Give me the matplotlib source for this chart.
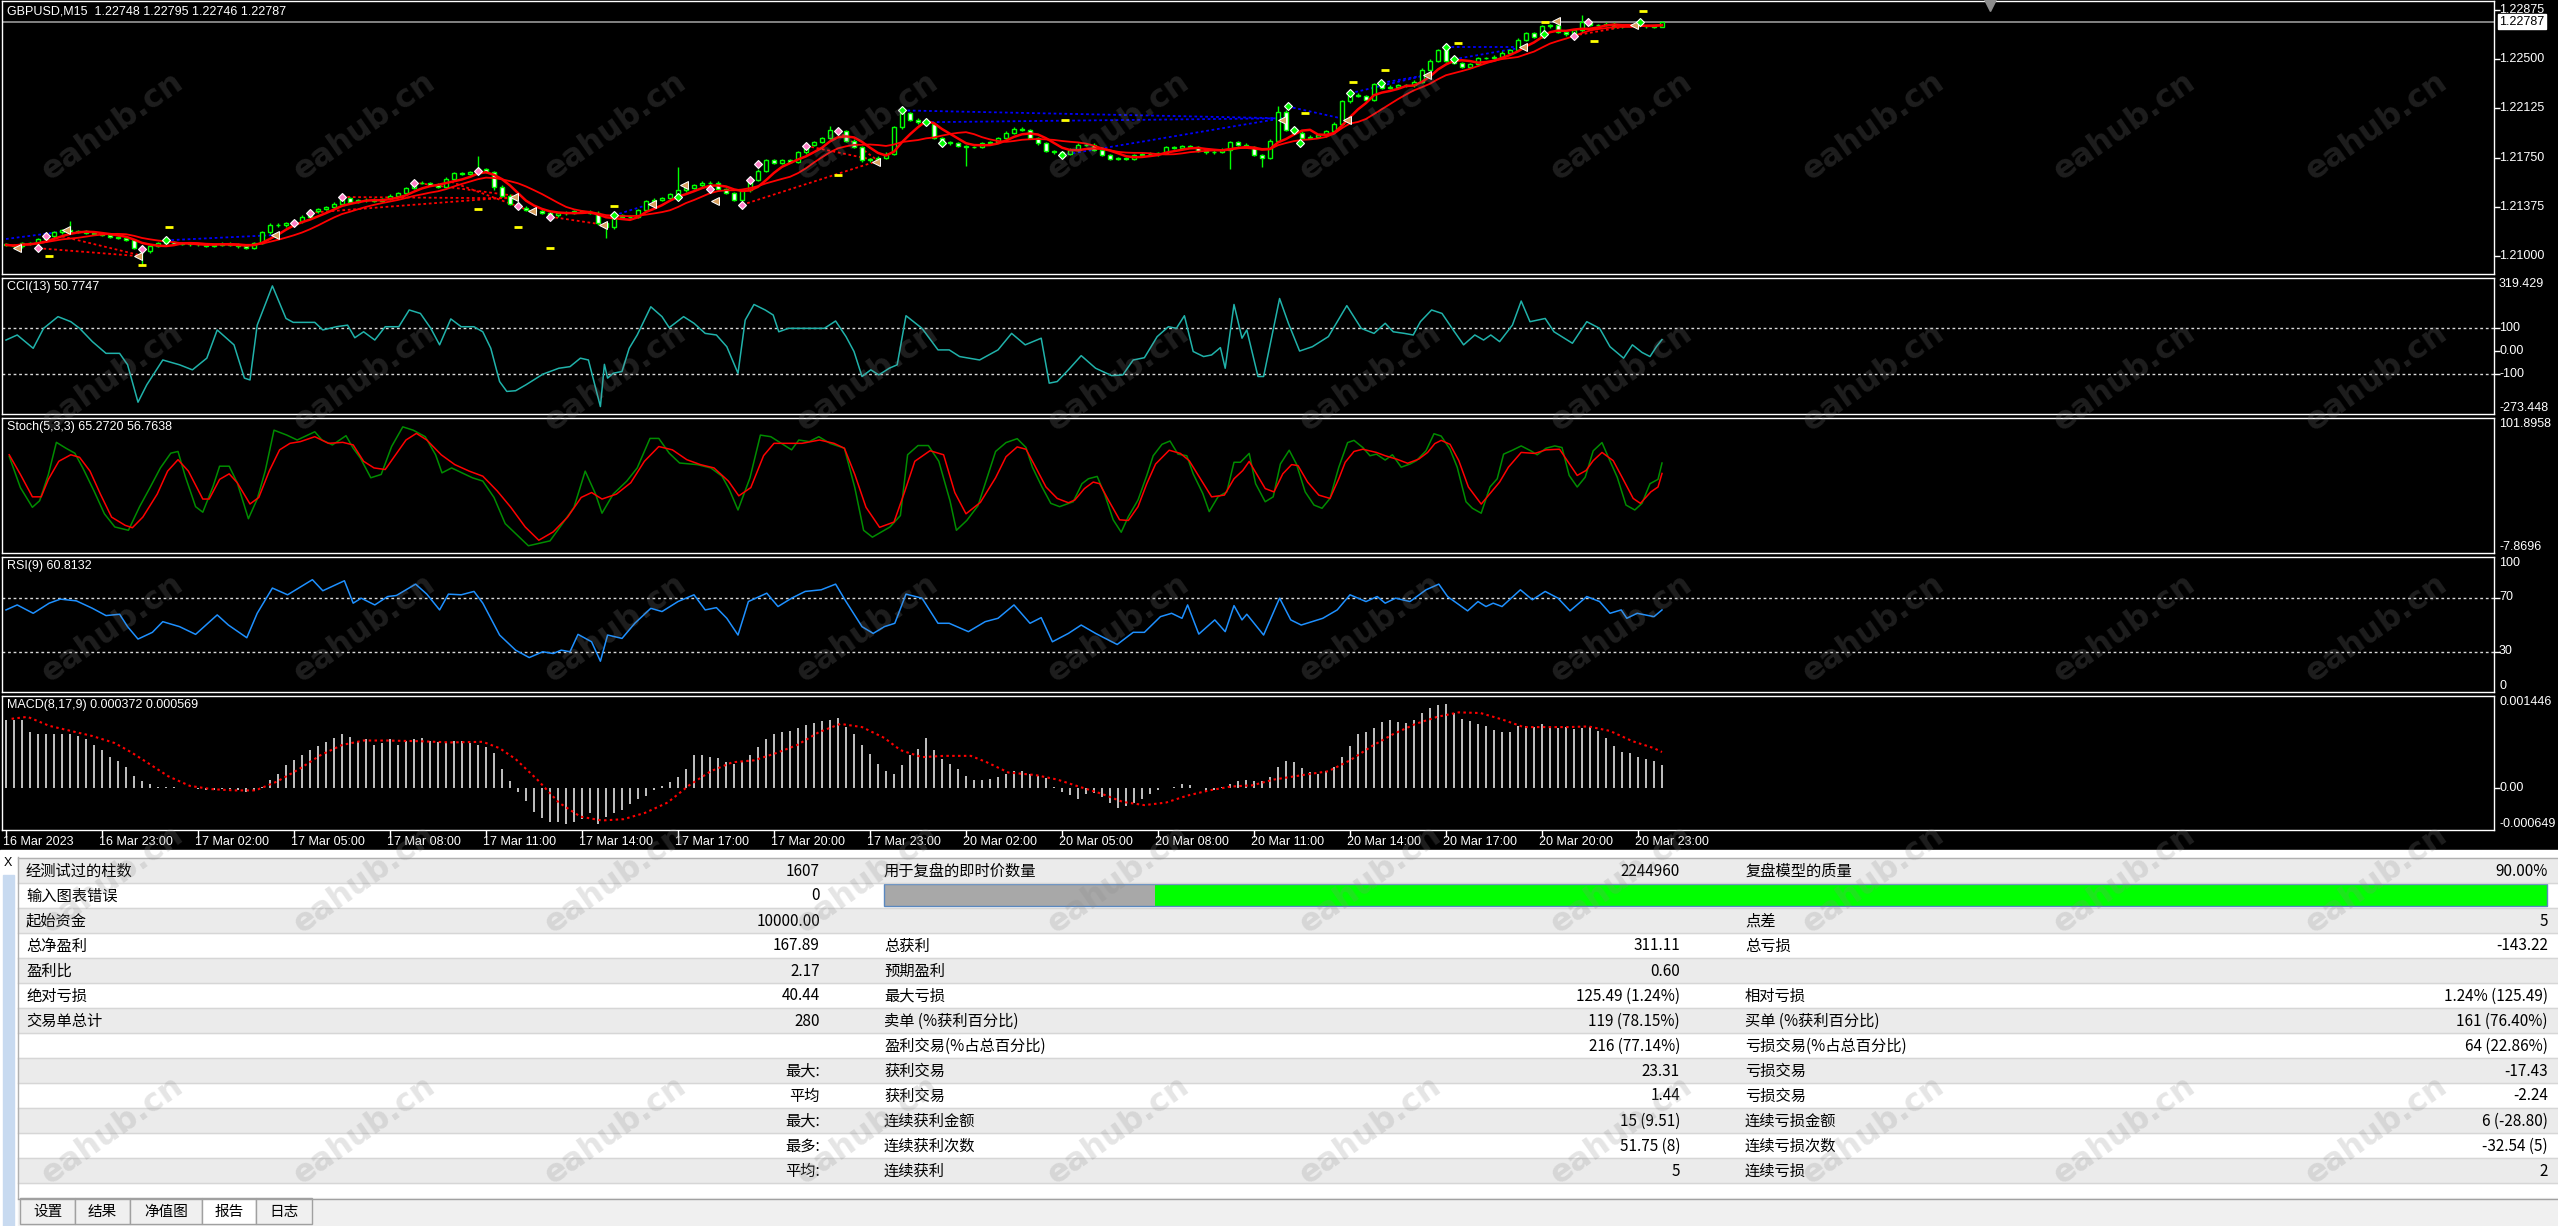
"""MT4 strategy tester screenshot: GBPUSD M15 chart with CCI / Stoch / RSI / MACD panes and report table."""

import numpy as np
import pandas as pd
import matplotlib
matplotlib.use("Agg")
import matplotlib.pyplot as plt
from matplotlib.patches import Rectangle

W, H = 2558, 1226
CHART_FONT = ["Liberation Sans", "DejaVu Sans"]
CJK_FONT = ["Noto Sans CJK SC", "DejaVu Sans"]

# ============================ data ============================
first_open = 1.21090
closes = [
    1.21085, 1.21075, 1.21100, 1.21098, 1.21130, 1.21150, 1.21180, 1.21198, 1.21185, 1.21190,
    1.21175, 1.21168, 1.21160, 1.21145, 1.21140, 1.21122, 1.21060, 1.21035, 1.21080, 1.21100,
    1.21107, 1.21095, 1.21100, 1.21090, 1.21092, 1.21080, 1.21085, 1.21095, 1.21088, 1.21075,
    1.21060, 1.21100, 1.21180, 1.21240, 1.21235, 1.21250, 1.21265, 1.21300, 1.21340, 1.21360,
    1.21372, 1.21400, 1.21440, 1.21415, 1.21425, 1.21430, 1.21420, 1.21435, 1.21460, 1.21480,
    1.21520, 1.21560, 1.21558, 1.21545, 1.21530, 1.21590, 1.21630, 1.21625, 1.21640, 1.21660,
    1.21640, 1.21530, 1.21460, 1.21400, 1.21370, 1.21350, 1.21345, 1.21330, 1.21310, 1.21325,
    1.21330, 1.21340, 1.21338, 1.21330, 1.21250, 1.21220, 1.21310, 1.21300, 1.21300, 1.21350,
    1.21420, 1.21430, 1.21440, 1.21470, 1.21500, 1.21520, 1.21540, 1.21560, 1.21560, 1.21510,
    1.21480, 1.21430, 1.21500, 1.21580, 1.21650, 1.21730, 1.21710, 1.21730, 1.21720, 1.21790,
    1.21850, 1.21870, 1.21900, 1.21960, 1.21950, 1.21880, 1.21830, 1.21730, 1.21740, 1.21750,
    1.21780, 1.21980, 1.22090, 1.22040, 1.22020, 1.22010, 1.21900, 1.21870, 1.21860, 1.21840,
    1.21830, 1.21830, 1.21860, 1.21870, 1.21900, 1.21940, 1.21970, 1.21960, 1.21900, 1.21860,
    1.21800, 1.21790, 1.21780, 1.21810, 1.21850, 1.21850, 1.21810, 1.21770, 1.21740, 1.21745,
    1.21740, 1.21770, 1.21780, 1.21775, 1.21785, 1.21830, 1.21825, 1.21835, 1.21830, 1.21800,
    1.21790, 1.21795, 1.21810, 1.21870, 1.21850, 1.21830, 1.21770, 1.21750, 1.21880, 1.22100,
    1.21960, 1.21940, 1.21900, 1.21910, 1.21920, 1.21950, 1.22010, 1.22180, 1.22230, 1.22220,
    1.22190, 1.22310, 1.22280, 1.22290, 1.22300, 1.22300, 1.22330, 1.22420, 1.22490, 1.22570,
    1.22490, 1.22470, 1.22440, 1.22460, 1.22510, 1.22510, 1.22520, 1.22550, 1.22570, 1.22650,
    1.22700, 1.22670, 1.22750, 1.22760, 1.22710, 1.22690, 1.22720, 1.22780, 1.22760, 1.22760,
    1.22770, 1.22750, 1.22760, 1.22760, 1.22750, 1.22750, 1.22748, 1.22787,
]
long_highs = {8: 1.21270, 59: 1.21760, 84: 1.21680, 103: 1.21990, 112: 1.22130,
              159: 1.22140, 180: 1.22600, 197: 1.22840, 207: 1.22795}
long_lows = {17: 1.20930, 61: 1.21500, 75: 1.21140, 120: 1.21690, 153: 1.21660,
             157: 1.21680, 207: 1.22746}
bid = 1.22787

price_ticks = [1.22875, 1.22500, 1.22125, 1.21750, 1.21375, 1.21000]

# tester trade marks
buy_bar = [20, 76, 84, 112, 115, 117, 132, 160.2, 161, 161.8, 168, 171.9, 180, 181, 192.2, 204.2]
buy_px = [1.2112, 1.2131, 1.2145, 1.2211, 1.2202, 1.2186, 1.2177, 1.2214, 1.2196, 1.2186,
          1.2224, 1.2232, 1.2259, 1.2250, 1.2269, 1.2278]
sell_bar = [4, 5, 17, 36, 38, 42, 51, 59, 64, 68, 88, 92, 93, 94, 100, 104, 196, 197.8]
sell_px = [1.2106, 1.2115, 1.2105, 1.2125, 1.2133, 1.2145, 1.2156, 1.2165, 1.2138, 1.2130,
           1.2151, 1.2139, 1.2158, 1.2170, 1.2184, 1.2195, 1.2268, 1.2278]
close_bar = [1.4, 7.5, 16.5, 33.6, 63.5, 65.7, 74.6, 80.7, 84.7, 88.6, 108.7, 159.5, 167.6,
             177.6, 189.6, 193.7, 203.5]
close_px = [1.2106, 1.2120, 1.2100, 1.2116, 1.2145, 1.2134, 1.2124, 1.2140, 1.2154, 1.2142,
            1.2172, 1.2204, 1.2204, 1.2238, 1.2259, 1.2279, 1.2276]
red_links = [(4, 1.2106, 16.5, 1.2100), (7, 1.2115, 16.5, 1.2101), (38, 1.2133, 63.5, 1.2145),
             (42, 1.2145, 63.5, 1.2144), (51, 1.2156, 63.5, 1.2146), (55, 1.2158, 65.7, 1.2134),
             (68, 1.2130, 74.6, 1.2124), (92, 1.2139, 108.7, 1.2172), (100, 1.2184, 108.7, 1.2173),
             (104, 1.2195, 108.7, 1.2174), (196, 1.2268, 203.5, 1.2276)]
blue_links = [(0, 1.2113, 7.5, 1.2119), (20, 1.2112, 33.6, 1.2116), (76, 1.2131, 80.7, 1.2140),
              (112, 1.2211, 159.5, 1.2205), (115, 1.2202, 159.5, 1.2205), (132, 1.2177, 159.5, 1.2205),
              (160.2, 1.2214, 167.6, 1.2204), (168, 1.2224, 177.6, 1.2238), (172, 1.2232, 177.6, 1.2238),
              (180, 1.2259, 189.6, 1.2259), (181, 1.2250, 189.6, 1.2259)]
tp_bar = [5.4, 17, 20.4, 59, 64, 68, 76, 104, 132.4, 162.4, 168.4, 172.4, 181.5, 192.4, 198.5, 204.6]
tp_px = [1.2100, 1.2093, 1.2122, 1.2136, 1.2122, 1.2106, 1.2138, 1.2162, 1.2204, 1.2209,
         1.2233, 1.2242, 1.2262, 1.2278, 1.2264, 1.2287]

# CCI(13)
cci_bar = [0, 1.4, 3.4, 4.7, 6.5, 8.1, 9.2, 10.8, 12.5, 14.2, 15.2, 16.5, 17.6, 19.6, 21.7, 23.3,
           25.1, 26.4, 28.5, 29.8, 30.5, 31.4, 33.3, 35, 35.9, 38.6, 39.6, 41.3, 42.7, 43.6, 44.7,
           46.1, 47.4, 49.1, 50.4, 51.8, 53.1, 54.2, 55.6, 56.9, 58.5, 59.6, 60.6, 61.7, 62.6, 63.7,
           65, 67.1, 69.1, 70.5, 71.8, 72.8, 74.3, 74.8, 75.2, 75.9, 77, 77.9, 78.9, 80.6, 82, 82.9,
           84.7, 86, 87.4, 88.8, 90.1, 91.5, 92.4, 93.5, 94.9, 95.9, 96.6, 97.8, 99.6, 100.9, 102.3,
           103.7, 105, 106, 107, 108.1, 109.1, 110.4, 111.4, 112.5, 114.5, 116.5, 117.9, 119.2,
           121.7, 124, 125.7, 127.4, 129.4, 130.4, 131.4, 132.8, 134.4, 136.2, 138.2, 139.6, 140.9,
           142.3, 143.9, 145.3, 146.3, 147.3, 148.4, 149.7, 150.7, 151.8, 152.4, 153.5, 154.5,
           155.1, 156.5, 157.2, 159.2, 160.3, 161.7, 163.3, 165.3, 167.6, 169.4, 171, 172.4, 173.4,
           174.8, 175.9, 176.8, 178.2, 179.5, 180.9, 182.2, 183.6, 184.7, 185.6, 186.7, 188.3,
           189.4, 190.5, 192.4, 193.5, 195.8, 197.6, 199.2, 200.5, 202.2, 203.3, 204.5, 205.5,
           206.3, 207]
cci_val = [49, 71, 13, 100, 151, 129, 100, 42, -9, -9, -59, -222, -146, -38, -59, -81, -30, 93,
           28, -117, -125, 114, 285, 143, 126, 126, 93, 107, 114, 59, 85, 49, 107, 107, 180, 165,
           100, 28, 141, 107, 107, 85, 13, -132, -175, -172, -146, -100, -74, -67, -30, -38, -241,
           -57, -117, -96, -88, 13, 71, 194, 151, 103, 151, 122, 78, 71, 20, -96, 136, 204, 180,
           158, 85, 100, 100, 100, 100, 132, 64, -1, -110, -81, -103, -74, -59, 155, 100, 6, 6,
           -23, -38, 6, 78, 28, 57, -139, -132, -81, -19, -74, -106, -103, -38, -28, 64, 107, 100,
           155, -1, -23, -16, 16, -74, 204, 57, 93, -110, -110, 230, 122, 1, 20, 64, 199, 100, 78,
           122, 85, 78, 71, 129, 180, 165, 93, 28, 71, 49, 71, 42, 114, 219, 129, 143, 85, 35, 129,
           100, 20, -30, 28, -5, -23, 20, 51]

# Stochastic(5,3,3): main (green) and signal (red)
stk_bar = [0.4, 1.8, 3.3, 4.2, 5.3, 6.3, 7.5, 8.6, 9.6, 11, 12.3, 13.6, 15.3, 16.7, 18, 19.3,
           20.6, 21.5, 22.4, 23.7, 24.6, 25.9, 26.7, 27.9, 28.9, 30.3, 31.4, 32.4, 33.5, 35.1,
           36.4, 38.6, 39.5, 40.8, 42.5, 43.4, 44.3, 45.6, 46.9, 48.2, 49.6, 50.9, 52.4, 53.7,
           54.5, 55.7, 57, 58.3, 59.6, 61, 62.4, 64, 65.3, 68, 69.7, 71, 72.4, 73.7, 74.5, 75.9,
           77.6, 78.9, 80.5, 81.6, 82.9, 84.2, 86.4, 88.1, 89.5, 90.4, 91.5, 93, 94.3, 95.6, 96.9,
           98.2, 99.1, 100.4, 101.6, 103, 104.8, 106.1, 107.2, 108.3, 110.5, 111.8, 112.7, 114,
           115.3, 116.6, 118, 118.8, 120.1, 121.5, 123.7,
           125, 126.4, 127.5, 128.3, 129.5, 130.6, 131.7, 133.4, 134.5, 135.3, 136.4, 137.3,
           138.4, 139.4, 140.3, 141.5, 142.6, 143.4, 144.5, 145.5, 146.5, 147.6, 148.4, 149.6,
           150.4, 151.5, 152.6, 153.5, 154.3, 155.4, 156.2, 157.4, 158.4, 159.3, 160.4, 161.3,
           162.4, 163.5, 164.5, 165.5, 166.6, 167.7, 168.5, 169.6, 170.5, 171.3, 172.4, 173.3,
           174.4, 175.5, 176.3, 177.5, 178.5, 179.4, 180.5, 181.4, 182.5, 183.3, 184.4, 185.5,
           186.4, 187.2, 188.3, 189.4, 190.6, 191.4, 192.5, 193.6, 194.5, 195.4, 196.4, 197.4,
           198.4, 199.5, 200.3, 201.4, 202.5, 203.6, 204.5, 205.5, 206.5, 207]
stk_val = [70.7, 45.3, 29.3, 34.6, 56, 82.1, 77.3, 73.3, 61.3, 42.6, 24, 13.3, 10.6, 29.8, 45.3,
           61.3, 73.3, 74.7, 54.6, 29.8, 25.3, 46.6, 62.7, 62.7, 49.3, 20, 36, 58.7, 92, 88, 84,
           90.7, 84, 80, 87.5, 77.3, 69.3, 53.3, 56, 78.7, 94.7, 92, 86.7, 72, 57.3, 61.3, 57.3,
           53.3, 50.6, 37.3, 16, 6, -2, 2, 17.3, 29.3, 58.7, 40, 24.5, 40, 50.6, 61.3, 85.3, 85.3,
           73.3, 65.3, 64, 61.3, 54.6, 44, 27.1, 53.3, 88, 86.7, 81.3, 76, 84, 82.7, 86.7, 81.3,
           77.3, 45.3, 10.6, 5, 13.3, 22.6, 72, 79.5, 79.5, 66.7, 34.6, 10.6, 18.6, 30.6, 74.7,
           81.9, 85.1, 77.9, 61.9, 45.8, 32.5, 29.8, 33.8, 48.5, 52.5, 54.4, 40.5, 19.1, 9, 21.8,
           35.2, 55.2, 71.2, 80.5, 83.2, 72.5, 71.2, 56.5, 40.5, 25.8, 37.8, 41.8, 65.9, 65.9,
           73.1, 48.5, 33.8, 37.8, 64.5, 75.7, 64.5, 41.8, 31.1, 28.5, 36.5, 61.9, 81.9, 83.7,
           77.9, 71.2, 72.5, 67.7, 72, 61.9, 64.5, 67.2, 75.2, 89.1, 87.2, 76.5, 61.9, 33.8, 28.5,
           24.5, 45.8, 52.5, 72.5, 75.7, 79.2, 75.2, 72, 77.3, 79.2, 77.9, 55.2, 45.8, 53.8, 75.2,
           81.9, 69.9, 53.8, 31.1, 27.1, 32.5, 48.5, 52, 65.3]
sig_bar = [0.4, 1.8, 3.3, 4.4, 5.3, 6.6, 8.1, 9.2, 10.5, 11.8, 13.2, 14.9, 15.8, 17.1, 18.9, 20.2,
           21.5, 22.8, 24.6, 25.4, 26.7, 27.9, 28.9, 30.5, 31.6, 32.9, 34.2, 35.5, 36.8, 38.6,
           40.3, 42.1, 43.4, 44.7, 46, 47.4, 48.7, 50, 51.3, 52.6, 54.4, 56.1, 57.9, 59.6, 61.4,
           63.1, 64.9, 66.6, 68.4, 70.2, 71.9, 73.2, 74.5, 76.3, 78.1, 79.8, 81.6, 83.3, 85.1,
           86.8, 88.5, 90.3, 91.6, 93.1, 94.7, 96, 97.8, 99.5, 101.7, 103.5, 104.8, 106.1, 107.5,
           109.2, 111, 112.3, 113.6, 115.5, 117.2, 118.6, 120, 121.8, 123.7,
           125, 126.4, 127.5, 128.6, 130, 131.4, 132.8, 133.6, 134.8, 135.9, 136.7, 137.8, 139.2,
           140.3, 141.5, 142.6, 143.7, 145.4, 146.8, 147.9, 149.3, 150.7, 152.3, 153.5, 154.6,
           155.4, 156.2, 157.4, 158.5, 159.6, 160.7, 161.5, 162.7, 164.1, 165.5, 166.6, 167.4,
           168.5, 169.6, 171.3, 172.4, 173.8, 175.2, 176.6, 177.7, 178.6, 179.4, 180.5, 181.6,
           182.8, 184.4, 185.5, 186.7, 187.8, 189.4, 191.1, 192.5, 194.2, 195.3, 196.4, 197.5,
           198.4, 199.5, 200.9, 202, 203.4, 204.3, 205.6, 206.5, 207]
sig_val = [72, 56, 37.8, 37.8, 52, 66.7, 72, 69.9, 58.7, 40, 21.3, 14.6, 12.7, 21.3, 40, 58.7, 68,
           58.7, 36, 36, 52, 56.5, 49.3, 32, 37.3, 58.7, 76, 81.3, 82.7, 86.7, 81.3, 82.1, 80,
           66.7, 61.3, 60, 72, 84, 89.4, 84, 72, 64, 58.7, 54.6, 42.6, 29.3, 13.3, 2.5, 9.3, 21.3,
           37.3, 41.3, 36, 40, 49.3, 66.7, 78.7, 76, 68, 64, 61.3, 50.6, 38.6, 45.3, 71.3, 81.3,
           81.3, 81.3, 84, 81.3, 77.3, 56, 29.3, 13, 17.3, 41.3, 66.7, 75.3, 72, 41.3, 24, 33.3,
           53.3,
           70.4, 78.4, 76.5, 63.2, 45.8, 36.5, 33, 35.2, 44.5, 49.8, 48.5, 35.2, 19.1, 18.6, 29.8,
           48.5, 64.5, 75.7, 73.1, 67.2, 52.5, 37.8, 39.2, 52.5, 59.2, 66.6, 57.8, 44.5, 41.8,
           56.5, 64, 63.2, 49.8, 39.2, 36.5, 52.5, 65.9, 74.7, 76.5, 73.9, 71.2, 68.5, 65.1, 68.5,
           73.9, 81.1, 83.7, 80.5, 67.2, 45.8, 31.9, 40.5, 49.8, 61.9, 73.9, 73.1, 76, 76.5, 65.9,
           55.2, 59.2, 67.2, 73.9, 67.2, 53.8, 36.5, 32.5, 41.8, 45.8, 56.8]

# RSI(9)
rsi_bar = [0, 1.4, 3.4, 5.4, 6.8, 8.8, 10.8, 12.5, 14.2, 15.2, 16.5, 18.3, 19.6, 21.7, 23.7, 26.4,
           27.8, 30.1, 31.4, 33.3, 35.2, 38.3, 39.6, 42.3, 43.4, 44.4, 46.1, 47.7, 48.8, 51.2,
           52.6, 54.2, 55.3, 56.9, 58.5, 59.6, 61.7, 63.7, 65.4, 67.1, 68.4, 69.4, 70.5, 71.5,
           73.2, 74.3, 75.2, 77, 78.6, 80.6, 82, 84, 86, 87.4, 88.8, 90.1, 91.5, 92.8, 95.1, 96.5,
           98.2, 99.9, 101.9, 103.7, 105, 107, 108.4, 109.8, 111.1, 112.5, 114.5, 116.5, 117.9,
           120.3, 122.4, 124, 126, 128, 129.4, 130.8, 132.8, 134.4, 136.2, 138.9, 140.9, 142.3,
           144.3, 145.7, 147, 147.7, 149.1, 151.1, 152.4, 153.5, 154.5, 155.1, 157.2, 159.2,
           160.6, 161.9, 164.6, 166.4, 168, 170, 171.4, 172.4, 173.7, 175.5, 177.5, 179.1, 180.2,
           182.7, 184, 185, 185.9, 187, 189.3, 190.8, 192.4, 194, 195.5, 197.6, 199.2, 200.5,
           201.9, 202.6, 203.9, 206, 207]
rsi_val = [60.8, 64.5, 58.3, 65.8, 68.8, 67.5, 62, 56.6, 57.6, 48.4, 39.2, 44.2, 52.1, 48.4, 42.7,
           57.1, 49.6, 40.2, 58.3, 77, 72, 83.2, 75, 82.4, 65.8, 69.5, 64.5, 70.7, 71.5, 79.9,
           72.5, 60.8, 72.5, 72, 74.5, 65.8, 42.2, 31, 25.5, 29.8, 28.5, 31, 29.8, 42.7, 37.2,
           22.8, 42.2, 39.7, 50.9, 62, 59.6, 67, 72, 60.8, 62.5, 54.6, 42.2, 67, 73.2, 63.3, 69.5,
           74.5, 75.7, 79.9, 67, 48.4, 43.4, 48.4, 50.9, 72.5, 69.5, 50.9, 50.9, 44.7, 52.1,
           54.6, 64.5, 50.9, 55.1, 37.2, 43.4, 49.6, 43.4, 35.2, 44.2, 44.2, 55.8, 58.3, 54.6,
           64.5, 42.9, 53.4, 44.7, 64, 53.4, 57.6, 42.2, 69.5, 53.4, 49.6, 54.6, 60.8, 72, 67,
           70.7, 65.8, 69.5, 67, 75.7, 79.9, 70.7, 60.1, 67, 63.3, 65.8, 63.3, 75.7, 68.3, 74.5,
           69.5, 60.1, 70.7, 67, 58.3, 60.8, 54.6, 58.3, 55.8, 60.8]

# MACD(8,17,9): histogram per bar and signal, in units of 1e-5
macd_hist = [107, 107, 107, 88, 85, 85, 85, 85, 85, 82, 77, 68, 60, 50, 43, 33, 19, 12, 7, 3,
             3, 2, 1, 0, -1, -3, -2, -1, -1, -3, -5, -4, 3, 14, 22, 36, 44, 52, 60, 66,
             72, 79, 85, 81, 75, 77, 68, 71, 77, 68, 75, 78, 79, 75, 72, 71, 74, 74, 71, 68,
             65, 55, 30, 11, -5, -19, -36, -46, -52, -52, -55, -52, -48, -39, -56, -44, -38, -34, -25, -16,
             -11, -3, 4, 10, 18, 30, 52, 52, 50, 48, 41, 38, 41, 52, 65, 78, 85, 89, 90, 95,
             100, 103, 105, 107, 110, 96, 85, 68, 54, 39, 27, 22, 36, 52, 61, 79, 60, 46, 39, 30,
             19, 14, 14, 15, 18, 23, 28, 28, 23, 19, 16, 3, -5, -10, -16, -8, -7, -14, -22, -30,
             -27, -22, -16, -8, -3, 0, 3, 7, 5, 0, -5, -2, 3, 7, 12, 14, 12, 11, 18, 33,
             43, 41, 32, 25, 23, 27, 34, 49, 66, 85, 89, 94, 104, 107, 104, 103, 107, 118, 126, 130,
             132, 118, 109, 105, 101, 98, 92, 88, 88, 97, 97, 96, 101, 96, 94, 96, 93, 94, 96, 90,
             79, 66, 57, 55, 50, 46, 43, 37]
macd_sig_bar = [0.7, 2.7, 5.4, 8.1, 10.8, 13.6, 15.6, 17.6, 20.3, 23, 25.7, 28.5, 31.2, 33.9, 36.6,
                39.3, 42, 44.7, 47.4, 51.5, 55.6, 59.6, 61.7, 63.7, 66.4, 69.1, 71.8, 74.5, 77.2,
                79.9, 82.7, 85.4, 88.1, 90.8, 93.5, 96.2, 98.9, 101.6, 104.3, 107, 109.8, 111.8,
                114.5, 117.2, 120.6, 122.6, 125.3, 128.7, 131.4, 134.1, 136.9, 139.6, 142.3, 145,
                147.7, 150.4, 153.1, 155.8, 158.5, 162.6, 165.3, 168, 170.7, 173.4, 176.2, 178.9,
                181.6, 184.3, 187, 189.7, 192.4, 195.1, 197.8, 200.5, 203.3, 206, 207]
macd_sig_val = [109, 112, 98, 90, 82, 71, 57, 41, 19, 4, -1, -3, -3, 11, 30, 52, 68, 75, 75, 74,
                72, 73, 63, 46, 14, -22, -44, -50, -48, -38, -22, 5, 27, 41, 44, 55, 68, 88, 101,
                96, 79, 60, 49, 51, 51, 41, 25, 21, 14, 3, -8, -21, -26, -22, -11, -3, 3, 5, 14,
                22, 27, 44, 66, 85, 101, 112, 119, 118, 108, 96, 96, 96, 97, 90, 74, 63, 57]

time_labels = ["16 Mar 2023", "16 Mar 23:00", "17 Mar 02:00", "17 Mar 05:00", "17 Mar 08:00",
               "17 Mar 11:00", "17 Mar 14:00", "17 Mar 17:00", "17 Mar 20:00", "17 Mar 23:00",
               "20 Mar 02:00", "20 Mar 05:00", "20 Mar 08:00", "20 Mar 11:00", "20 Mar 14:00",
               "20 Mar 17:00", "20 Mar 20:00", "20 Mar 23:00"]
time_label_bars = list(range(0, 205, 12))

# report table
col_a_label = ["经测试过的柱数", "输入图表错误", "起始资金", "总净盈利", "盈利比", "绝对亏损",
               "交易单总计", "", "", "", "", "", ""]
col_a_value = ["1607", "0", "10000.00", "167.89", "2.17", "40.44", "280", "",
               "最大:", "平均", "最大:", "最多:", "平均:"]
col_b_label = ["用于复盘的即时价数量", "", "", "总获利", "预期盈利", "最大亏损", "卖单 (%获利百分比)",
               "盈利交易(%占总百分比)", "获利交易", "获利交易", "连续获利金额", "连续获利次数", "连续获利"]
col_b_value = ["2244960", "", "", "311.11", "0.60", "125.49 (1.24%)", "119 (78.15%)",
               "216 (77.14%)", "23.31", "1.44", "15 (9.51)", "51.75 (8)", "5"]
col_c_label = ["复盘模型的质量", "", "点差", "总亏损", "", "相对亏损", "买单 (%获利百分比)",
               "亏损交易(%占总百分比)", "亏损交易", "亏损交易", "连续亏损金额", "连续亏损次数", "连续亏损"]
col_c_value = ["90.00%", "", "5", "-143.22", "", "1.24% (125.49)", "161 (76.40%)",
               "64 (22.86%)", "-17.43", "-2.24", "6 (-28.80)", "-32.54 (5)", "2"]
quality_gray_frac = 0.163
tab_labels = ["设置", "结果", "净值图", "报告", "日志"]
active_tab = "报告"
# =====================================================================================


def px_axes(fig, x0, y0, x1, y1, z):
    return fig.add_axes([x0 / W, 1 - y1 / H, (x1 - x0) / W, (y1 - y0) / H], zorder=z)


def panel(fig, y0, y1, ylim, yticks):
    ax = px_axes(fig, 2, y0, 2494, y1, 2)
    ax.set_facecolor("black")
    ax.set_xlim(-0.5, 311)
    ax.set_ylim(*ylim)
    for s in ax.spines.values():
        s.set_color("white"); s.set_linewidth(1)
    ax.set_xticks([])
    ax.yaxis.tick_right()
    ax.set_yticks(yticks)
    ax.tick_params(axis="y", colors="white", length=4, width=1, labelright=False)
    return ax


def rlabel(ax, y, text, va="center", color="white", **kw):
    ax.text(1 + 5 / 2492, y, text, transform=ax.get_yaxis_transform(), color=color,
            fontsize=9, va=va, ha="left", clip_on=False, family=CHART_FONT, **kw)


def title(ax, text):
    ax.text(5 / 2492, 1 - 9 / (ax.bbox.height), text, transform=ax.transAxes, color="white",
            fontsize=9, va="center", ha="left", family=CHART_FONT)


def level(ax, y):
    ax.axhline(y, color="#d8d8d8", lw=1, ls=(0, (2, 2)))


def main():
    plt.rcParams["font.family"] = CHART_FONT
    fig = plt.figure(figsize=(W / 100, H / 100), dpi=100)

    # ---- backgrounds / table shading ----
    bg = fig.add_axes([0, 0, 1, 1], zorder=0)
    bg.set_xlim(0, W); bg.set_ylim(H, 0); bg.axis("off")
    bg.add_patch(Rectangle((0, 0), W, 850, color="black"))
    bg.add_patch(Rectangle((0, 850), W, H - 850, color="white"))
    for i in range(13):
        y0 = 858 + 25 * i
        if i % 2 == 0:
            bg.add_patch(Rectangle((18, y0), W - 18, 25, color="#ebebeb"))
        bg.plot([18, W], [y0 + 25, y0 + 25], color="#d6d6d6", lw=1)
    bg.plot([18, W], [857.5, 857.5], color="#b0b0b0", lw=1)
    bg.plot([18, 18], [857, 1198], color="#b0b0b0", lw=1)
    # left side strip of the tester window
    bg.add_patch(Rectangle((3, 875), 11, H - 875, color="#c8daf0"))
    # modelling quality bar
    bx0, bx1 = 884, 2547
    split = bx0 + quality_gray_frac * (bx1 - bx0)
    bg.add_patch(Rectangle((bx0, 884), split - bx0, 22, facecolor="#a8a8a8", edgecolor="none"))
    bg.add_patch(Rectangle((split, 884), bx1 - split, 22, facecolor="#00ff00", edgecolor="none"))
    bg.add_patch(Rectangle((bx0, 884), bx1 - bx0, 22, fill=False, edgecolor="#5a88c0", lw=1))
    # tab bar
    bg.add_patch(Rectangle((18, 1198), W - 18, H - 1198, color="#f0f0f0"))
    bg.plot([18, W], [1198.5, 1198.5], color="#a0a0a0", lw=1)
    edges = [20, 75, 130, 202, 256, 312]
    for k, lab in enumerate(tab_labels):
        x0, x1 = edges[k], edges[k + 1]
        on = lab == active_tab
        bg.add_patch(Rectangle((x0, 1198), x1 - x0, 26, facecolor="white" if on else "#f0f0f0",
                               edgecolor="#a0a0a0", lw=1))

    x = np.arange(len(closes))
    c = np.array(closes)
    o = np.r_[first_open, c[:-1]]
    hi = np.maximum(o, c) + 0.0001
    lo = np.minimum(o, c) - 0.0001
    for b, v in long_highs.items():
        hi[b] = v
    for b, v in long_lows.items():
        lo[b] = v

    # ---- main price pane ----
    ax = panel(fig, 1, 274, (1.208633, 1.229436), price_ticks)
    ax.axhline(bid, color="#8c8c8c", lw=1.3, zorder=1)
    ma_fast = pd.Series(c).rolling(5, min_periods=1).mean()
    ma_slow = pd.Series(c).rolling(10, min_periods=1).mean()
    for b0, p0, b1, p1 in red_links:
        ax.plot([b0, b1], [p0, p1], color="#ff0000", lw=1.3, ls=(0, (1.5, 1.5)), zorder=2)
    for b0, p0, b1, p1 in blue_links:
        ax.plot([b0, b1], [p0, p1], color="#0000ff", lw=1.3, ls=(0, (1.5, 1.5)), zorder=2)
    ax.vlines(x, lo, hi, color="#00ff00", lw=1, zorder=3)
    up = c >= o
    ax.bar(x[up], (c - o)[up], bottom=o[up], width=0.62, color="black", edgecolor="#00ff00",
           lw=1, zorder=4)
    ax.bar(x[~up], (c - o)[~up], bottom=o[~up], width=0.62, color="white", edgecolor="#00ff00",
           lw=1, zorder=4)
    ax.plot(x, ma_slow, color="#ff0000", lw=1.3, zorder=5)
    ax.plot(x, ma_fast, color="#ff0000", lw=1.8, zorder=5)
    ax.plot(tp_bar, tp_px, ls="none", marker="_", ms=6, mew=2, color="#ffff00", zorder=6)
    ax.plot(close_bar, close_px, ls="none", marker="<", ms=6, mfc="#d8a060", mec="white",
            mew=0.7, zorder=6)
    ax.plot(sell_bar, sell_px, ls="none", marker="D", ms=4.5, mfc="#ff80c8", mec="white",
            mew=0.8, zorder=6)
    ax.plot(buy_bar, buy_px, ls="none", marker="D", ms=4.5, mfc="#00ff00", mec="white",
            mew=0.8, zorder=6)
    for t in price_ticks:
        rlabel(ax, t, f"{t:.5f}")
    rlabel(ax, bid, f"{bid:.5f}", color="black",
           bbox=dict(boxstyle="square,pad=0.12", fc="white", ec="white"))
    ax.text(5 / 2492, 1 - 11 / ax.bbox.height, "GBPUSD,M15  1.22748 1.22795 1.22746 1.22787",
            transform=ax.transAxes, color="white", fontsize=9, va="center", family=CHART_FONT)

    # ---- CCI ----
    ax = panel(fig, 278, 414, (-273.448, 319.429), [100, 0, -100])
    level(ax, 100); level(ax, -100)
    ax.plot(cci_bar, cci_val, color="#20b2aa", lw=1.1)
    rlabel(ax, 319.429, "319.429", va="top")
    rlabel(ax, 100, "100"); rlabel(ax, 0, "0.00"); rlabel(ax, -100, "-100")
    rlabel(ax, -273.448, "-273.448", va="bottom")
    title(ax, "CCI(13) 50.7747")

    # ---- Stochastic ----
    ax = panel(fig, 418, 553, (-7.8696, 101.8958), [])
    ax.plot(stk_bar, stk_val, color="#008c00", lw=1.1)
    ax.plot(sig_bar, sig_val, color="#ff0000", lw=1.1)
    rlabel(ax, 101.8958, "101.8958", va="top")
    rlabel(ax, -7.8696, "-7.8696", va="bottom")
    title(ax, "Stoch(5,3,3) 65.2720 56.7638")

    # ---- RSI ----
    ax = panel(fig, 557, 692, (0, 100), [70, 30])
    level(ax, 70); level(ax, 30)
    ax.plot(rsi_bar, rsi_val, color="#1e90ff", lw=1.1)
    rlabel(ax, 100, "100", va="top"); rlabel(ax, 70, "70"); rlabel(ax, 30, "30")
    rlabel(ax, 0, "0", va="bottom")
    title(ax, "RSI(9) 60.8132")

    # ---- MACD ----
    ax = panel(fig, 696, 830, (-0.000649, 0.001446), [0])
    ax.vlines(x, 0, np.array(macd_hist) * 1e-5, color="#d0d0d0", lw=1.3)
    ax.plot(macd_sig_bar, np.array(macd_sig_val) * 1e-5, color="#ff0000", lw=1.5,
            ls=(0, (1.2, 1.6)))
    rlabel(ax, 0.001446, "0.001446", va="top"); rlabel(ax, 0, "0.00")
    rlabel(ax, -0.000649, "-0.000649", va="bottom")
    title(ax, "MACD(8,17,9) 0.000372 0.000569")
    ax.set_xticks(time_label_bars)
    ax.tick_params(axis="x", colors="white", length=5, width=1, direction="out",
                   bottom=True, labelbottom=False)

    # ---- overlay: texts in pixel coordinates ----
    ov = fig.add_axes([0, 0, 1, 1], zorder=10)
    ov.set_xlim(0, W); ov.set_ylim(H, 0); ov.axis("off"); ov.patch.set_alpha(0)
    for b, lab in zip(time_label_bars, time_labels):
        ov.text(3 + 8 * b, 842, lab, color="white", fontsize=9, va="center", ha="left",
                family=CHART_FONT)
    ov.plot([1990], [5], marker="v", ms=8, color="#8c8c8c", ls="none")

    for i in range(13):
        yc = 871 + 25 * i
        ov.text(26, yc, col_a_label[i], fontsize=11, va="center", ha="left", family=CJK_FONT)
        ov.text(820, yc, col_a_value[i], fontsize=11, va="center", ha="right", family=CJK_FONT)
        ov.text(884, yc, col_b_label[i], fontsize=11, va="center", ha="left", family=CJK_FONT)
        ov.text(1680, yc, col_b_value[i], fontsize=11, va="center", ha="right", family=CJK_FONT)
        ov.text(1745, yc, col_c_label[i], fontsize=11, va="center", ha="left", family=CJK_FONT)
        ov.text(2548, yc, col_c_value[i], fontsize=11, va="center", ha="right", family=CJK_FONT)
    for k, lab in enumerate(tab_labels):
        ov.text((edges[k] + edges[k + 1]) / 2, 1212, lab, fontsize=10.5, va="center",
                ha="center", family=CJK_FONT)
    ov.text(8, 863, "X", fontsize=9, va="center", ha="center", family=CHART_FONT)

    # watermark lattice
    for j in range(5):
        for k in range(10):
            ov.text(113 + 251.5 * k, 127 + 251 * j, "eahub.cn", rotation=35, fontsize=23,
                    fontweight="bold", color="#8a8a8a", alpha=0.22, ha="center", va="center",
                    family=["DejaVu Sans"], rotation_mode="anchor")

    fig.savefig("out.png", dpi=100, facecolor="black")


if __name__ == "__main__":
    main()
